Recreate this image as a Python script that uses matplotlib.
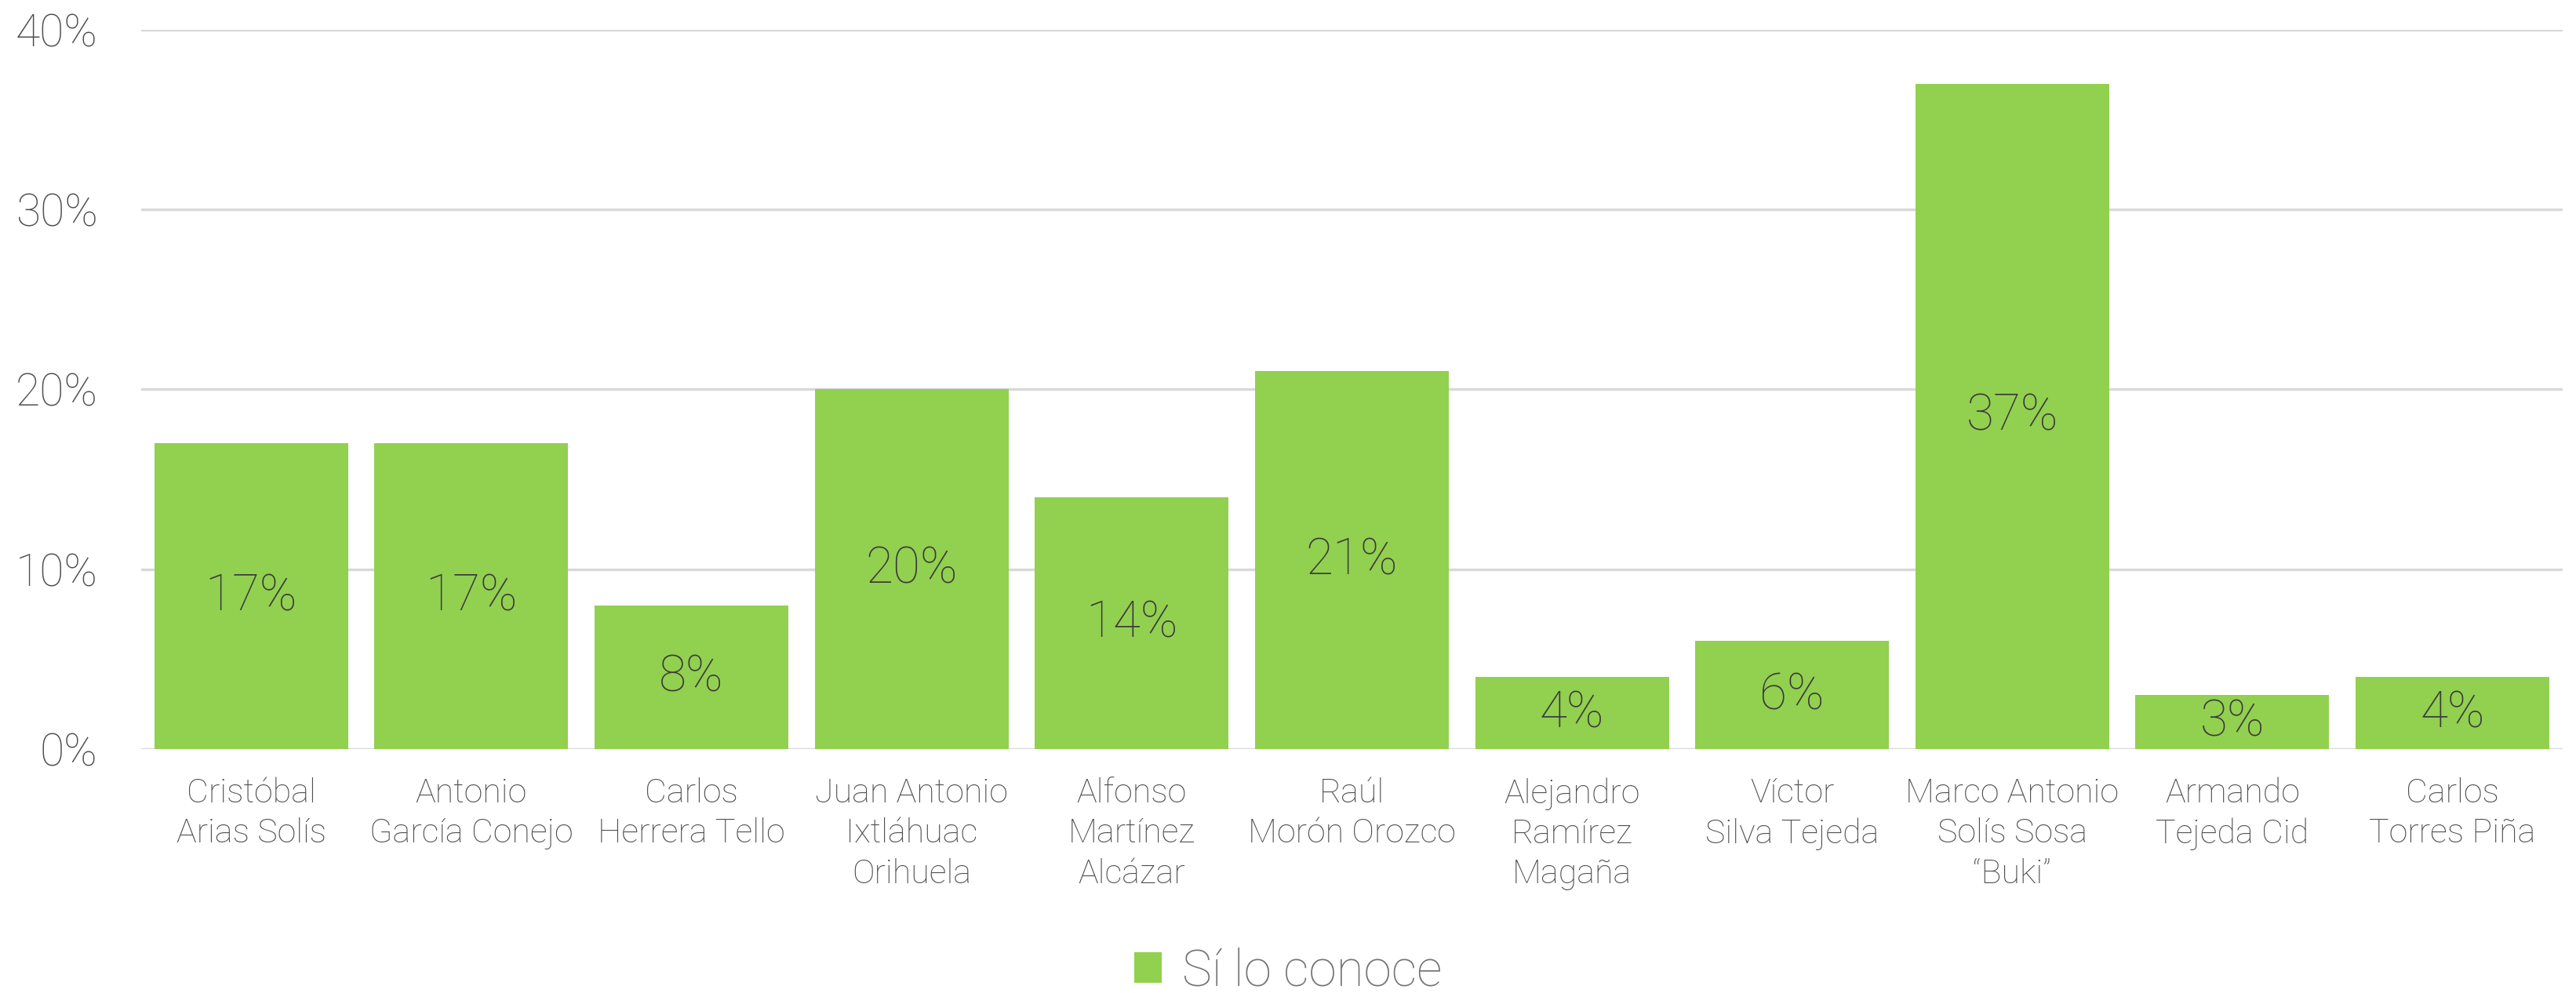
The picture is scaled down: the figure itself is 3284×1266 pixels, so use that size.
import matplotlib
matplotlib.use("Agg")
import matplotlib.pyplot as plt
from matplotlib.ticker import FuncFormatter
from matplotlib.patches import Patch

# data
names = [
    "Cristóbal\nArias Solís",
    "Antonio\nGarcía Conejo",
    "Carlos\nHerrera Tello",
    "Juan Antonio\nIxtláhuac\nOrihuela",
    "Alfonso\nMartínez\nAlcázar",
    "Raúl\nMorón Orozco",
    "Alejandro\nRamírez\nMagaña",
    "Víctor\nSilva Tejeda",
    "Marco Antonio\nSolís Sosa\n“Buki”",
    "Armando\nTejeda Cid",
    "Carlos\nTorres Piña",
]
conoce = [17, 17, 8, 20, 14, 21, 4, 6, 37, 3, 4]
series_name = "Sí lo conoce"
yticks = [0, 10, 20, 30, 40]

green = "#92D050"
font = ["Roboto", "DejaVu Sans"]

fig = plt.figure(figsize=(32.84, 12.66), dpi=100)
ax = fig.add_axes([0.0548, 0.2457, 0.94, 0.7245])

x = range(len(names))
bars = ax.bar(x, conoce, width=0.88, color=green, zorder=2)

for rect, v in zip(bars, conoce):
    ax.text(rect.get_x() + rect.get_width() / 2, v / 2, f"{v}%",
            ha="center", va="center", fontsize=46, color="#3A3A3A",
            family=font, fontweight="light", zorder=3)

ax.set_xlim(-0.5, len(names) - 0.5)
ax.set_ylim(0, 40)
ax.set_yticks(yticks)
ax.yaxis.set_major_formatter(FuncFormatter(lambda v, p: f"{v:.0f}%"))
ax.set_xticks(list(x))
ax.set_xticklabels(names, fontsize=31, color="#4F4F4F", family=font,
                   fontweight="light", linespacing=1.32, va="top")
for lab in ax.get_yticklabels():
    lab.set_fontsize(41)
    lab.set_color("#4F4F4F")
    lab.set_family(font)
    lab.set_fontweight("light")

ax.tick_params(axis="x", length=0, pad=26)
ax.tick_params(axis="y", length=0, pad=40)
ax.grid(axis="y", color="#D9D9D9", linewidth=2.5, zorder=0)
for s in ax.spines.values():
    s.set_visible(False)

leg = fig.legend(handles=[Patch(facecolor=green, label=series_name)],
                 loc="center", bbox_to_anchor=(0.5, 0.022), frameon=False,
                 handlelength=0.55, handleheight=0.55, handletextpad=0.4,
                 prop={"family": font, "size": 46, "weight": "light"})
for t in leg.get_texts():
    t.set_color("#737373")

fig.savefig("out.png", dpi=100)
